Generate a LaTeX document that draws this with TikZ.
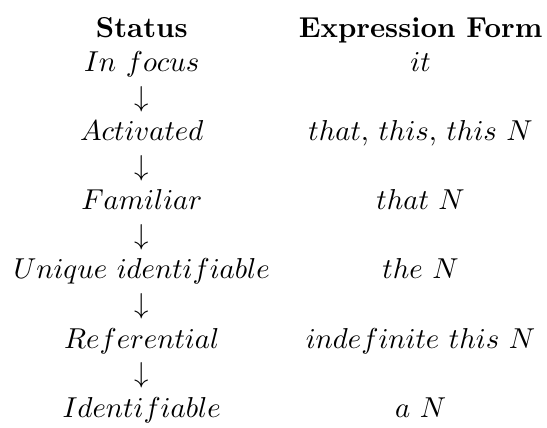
\documentclass[tikz,border=0pt]{standalone}
\usetikzlibrary{matrix,calc}
\begin{document}
\begin{tikzpicture}[
  cell/.style={inner sep=0pt, outer sep=0pt, text height=8.5pt, text depth=3.5pt, anchor=center},
]
% status hierarchy and its expression forms, one row per 12pt baseline
\matrix (m) [matrix of nodes, inner sep=0pt, column sep=10pt, row sep=0pt,
             nodes={cell}] {
  \textbf{Status}              & \textbf{Expression Form} \\
  $In\ focus$                  & $it$ \\
  $\downarrow$                 & \\
  $Activated$                  & $that$, $this$, $this\ N$ \\
  $\downarrow$                 & \\
  $Familiar$                   & $that\ N$ \\
  $\downarrow$                 & \\
  $Unique\ identifiable$       & $the\ N$ \\
  $\downarrow$                 & \\
  $Referential$                & $indefinite\ this\ N$ \\
  $\downarrow$                 & \\
  $Identifiable$               & $a\ N$ \\
};
\useasboundingbox ($(m.north west)+(-4.5pt,4.2pt)$) rectangle ($(m.south east)+(1.4pt,0pt)$);
\end{tikzpicture}
\end{document}
